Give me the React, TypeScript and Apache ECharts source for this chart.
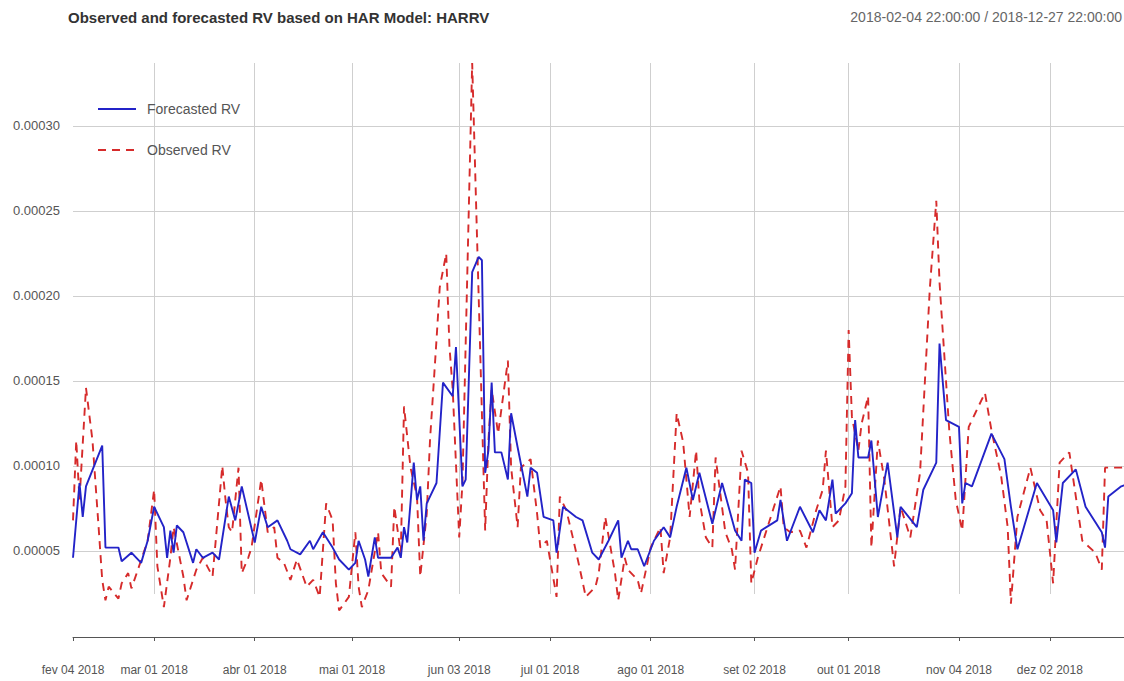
import React, { useEffect, useRef } from 'react';
import * as echarts from 'echarts';

const TITLE = 'Observed and forecasted RV based on HAR Model: HARRV';
const PERIOD = '2018-02-04 22:00:00 / 2018-12-27 22:00:00';
const YEAR = '2018';
const START_UTC = Date.UTC(2018, 1, 4);
const END_UTC = Date.UTC(2018, 11, 27);
const MONTHS_PT = ['jan', 'fev', 'mar', 'abr', 'mai', 'jun', 'jul', 'ago', 'set', 'out', 'nov', 'dez'];

// x tick labels (first observation of each month)
const tickDates = ['2018-02-04', '2018-03-01', '2018-04-01', '2018-05-01', '2018-06-03', '2018-07-01', '2018-08-01', '2018-09-02', '2018-10-01', '2018-11-04', '2018-12-02'];
// vertical grid lines (same, without the first)
const gridDates = tickDates.slice(1);
// y tick values
const yTicks = [0.00005, 0.0001, 0.00015, 0.0002, 0.00025, 0.0003];
const Y_MIN = 0.0000247;
const Y_MAX = 0.000337;

const forecasted: [string, number][] = [
  ['02-04', 4.6e-5], ['02-06', 9.0e-5], ['02-07', 7.0e-5], ['02-08', 8.8e-5], ['02-13', 11.2e-5], ['02-14', 5.2e-5],
  ['02-18', 5.2e-5], ['02-19', 4.4e-5], ['02-22', 4.9e-5], ['02-25', 4.3e-5], ['02-27', 5.6e-5], ['03-01', 7.6e-5],
  ['03-04', 6.4e-5], ['03-05', 4.6e-5], ['03-06', 6.2e-5], ['03-07', 4.9e-5], ['03-08', 6.5e-5], ['03-10', 6.1e-5],
  ['03-13', 4.3e-5], ['03-14', 5.1e-5], ['03-16', 4.6e-5], ['03-19', 4.9e-5], ['03-21', 4.5e-5], ['03-24', 8.2e-5],
  ['03-26', 6.8e-5], ['03-28', 8.8e-5], ['04-01', 5.5e-5], ['04-03', 7.6e-5], ['04-05', 6.4e-5], ['04-08', 6.8e-5],
  ['04-11', 5.6e-5], ['04-12', 5.1e-5], ['04-15', 4.8e-5], ['04-18', 5.6e-5], ['04-19', 5.1e-5], ['04-22', 6.1e-5],
  ['04-25', 5.2e-5], ['04-27', 4.5e-5], ['04-30', 3.9e-5], ['05-02', 4.3e-5], ['05-03', 5.6e-5], ['05-05', 4.5e-5],
  ['05-06', 3.5e-5], ['05-08', 5.8e-5], ['05-09', 4.6e-5], ['05-13', 4.6e-5], ['05-15', 5.2e-5], ['05-16', 4.6e-5],
  ['05-17', 6.4e-5], ['05-18', 5.5e-5], ['05-20', 10.2e-5], ['05-21', 8.0e-5], ['05-22', 8.8e-5], ['05-23', 5.6e-5],
  ['05-24', 7.8e-5], ['05-27', 9.0e-5], ['05-29', 14.9e-5], ['06-01', 14.1e-5], ['06-02', 17.0e-5], ['06-04', 8.8e-5],
  ['06-05', 9.2e-5], ['06-07', 21.4e-5], ['06-09', 22.3e-5], ['06-10', 22.1e-5], ['06-11', 9.6e-5], ['06-12', 10.9e-5],
  ['06-13', 14.9e-5], ['06-14', 10.8e-5], ['06-16', 10.8e-5], ['06-18', 9.2e-5], ['06-19', 13.1e-5], ['06-21', 11.1e-5],
  ['06-24', 8.2e-5], ['06-25', 9.9e-5], ['06-27', 9.6e-5], ['06-29', 7.0e-5], ['07-02', 6.8e-5], ['07-03', 4.9e-5],
  ['07-05', 7.6e-5], ['07-09', 7.0e-5], ['07-11', 6.8e-5], ['07-14', 4.9e-5], ['07-16', 4.5e-5], ['07-19', 5.6e-5],
  ['07-22', 6.8e-5], ['07-23', 4.6e-5], ['07-25', 5.6e-5], ['07-26', 5.1e-5], ['07-28', 5.1e-5], ['07-30', 4.1e-5],
  ['08-02', 5.6e-5], ['08-05', 6.4e-5], ['08-07', 5.8e-5], ['08-09', 7.6e-5], ['08-12', 9.9e-5], ['08-14', 8.0e-5],
  ['08-16', 9.6e-5], ['08-20', 6.6e-5], ['08-23', 9.0e-5], ['08-25', 7.6e-5], ['08-27', 6.2e-5], ['08-29', 5.6e-5],
  ['08-30', 9.2e-5], ['09-01', 9.0e-5], ['09-02', 4.9e-5], ['09-04', 6.2e-5], ['09-09', 6.8e-5], ['09-10', 8.0e-5],
  ['09-12', 5.6e-5], ['09-16', 7.6e-5], ['09-20', 6.1e-5], ['09-22', 7.4e-5], ['09-24', 6.8e-5], ['09-26', 9.2e-5],
  ['09-27', 7.2e-5], ['09-30', 7.8e-5], ['10-02', 8.4e-5], ['10-03', 12.7e-5], ['10-04', 10.5e-5], ['10-07', 10.5e-5],
  ['10-08', 11.5e-5], ['10-10', 7.0e-5], ['10-13', 10.2e-5], ['10-16', 5.8e-5], ['10-17', 7.6e-5], ['10-22', 6.4e-5],
  ['10-24', 8.6e-5], ['10-28', 10.2e-5], ['10-29', 17.2e-5], ['10-31', 12.7e-5], ['11-04', 12.3e-5], ['11-05', 7.8e-5],
  ['11-06', 9.0e-5], ['11-08', 8.8e-5], ['11-14', 11.9e-5], ['11-18', 10.4e-5], ['11-20', 7.6e-5], ['11-22', 5.1e-5],
  ['11-28', 9.0e-5], ['12-03', 7.4e-5], ['12-04', 5.5e-5], ['12-06', 9.0e-5], ['12-10', 9.8e-5], ['12-13', 7.6e-5],
  ['12-18', 6.1e-5], ['12-19', 5.2e-5], ['12-20', 8.2e-5], ['12-24', 8.8e-5], ['12-27', 9.0e-5],
];

const observed: [string, number][] = [
  ['02-04', 6.8e-5], ['02-05', 11.5e-5], ['02-06', 8.0e-5], ['02-08', 14.6e-5], ['02-10', 11.5e-5], ['02-12', 6.1e-5],
  ['02-13', 3.3e-5], ['02-14', 2.1e-5], ['02-15', 2.9e-5], ['02-18', 2.2e-5], ['02-19', 3.1e-5], ['02-21', 3.7e-5],
  ['02-22', 2.8e-5], ['02-24', 3.9e-5], ['02-27', 5.6e-5], ['03-01', 8.6e-5], ['03-02', 4.1e-5], ['03-04', 1.7e-5],
  ['03-06', 4.6e-5], ['03-07', 6.4e-5], ['03-10', 3.5e-5], ['03-11', 2.1e-5], ['03-13', 3.3e-5], ['03-14', 3.9e-5],
  ['03-16', 4.6e-5], ['03-19', 3.5e-5], ['03-22', 10.0e-5], ['03-23', 8.0e-5], ['03-24', 6.4e-5], ['03-25', 6.1e-5],
  ['03-27', 9.9e-5], ['03-28', 3.7e-5], ['03-30', 4.6e-5], ['03-31', 5.2e-5], ['04-03', 9.2e-5], ['04-05', 6.1e-5],
  ['04-07', 6.4e-5], ['04-08', 4.6e-5], ['04-10', 4.3e-5], ['04-12', 3.3e-5], ['04-14', 4.5e-5], ['04-17', 2.9e-5],
  ['04-19', 3.3e-5], ['04-21', 2.3e-5], ['04-23', 7.8e-5], ['04-25', 6.8e-5], ['04-26', 3.1e-5], ['04-27', 1.5e-5],
  ['04-30', 2.3e-5], ['05-02', 6.1e-5], ['05-03', 2.9e-5], ['05-04', 1.7e-5], ['05-06', 2.7e-5], ['05-09', 6.1e-5],
  ['05-10', 3.7e-5], ['05-13', 2.9e-5], ['05-14', 7.6e-5], ['05-16', 4.9e-5], ['05-17', 13.5e-5], ['05-19', 9.9e-5],
  ['05-21', 8.2e-5], ['05-22', 3.5e-5], ['05-24', 7.2e-5], ['05-25', 11.5e-5], ['05-27', 17.4e-5], ['05-28', 20.5e-5],
  ['05-30', 22.5e-5], ['05-31', 17.0e-5], ['06-01', 14.5e-5], ['06-03', 5.8e-5], ['06-04', 9.0e-5], ['06-07', 33.7e-5],
  ['06-11', 6.2e-5], ['06-12', 11.5e-5], ['06-13', 14.5e-5], ['06-15', 11.9e-5], ['06-18', 16.2e-5], ['06-19', 9.9e-5],
  ['06-21', 6.4e-5], ['06-22', 9.9e-5], ['06-25', 10.4e-5], ['06-27', 7.2e-5], ['06-28', 5.2e-5], ['06-30', 5.6e-5],
  ['07-03', 2.3e-5], ['07-04', 8.2e-5], ['07-06', 7.4e-5], ['07-08', 5.8e-5], ['07-10', 4.1e-5], ['07-12', 2.3e-5],
  ['07-15', 2.9e-5], ['07-16', 3.7e-5], ['07-18', 7.0e-5], ['07-21', 3.7e-5], ['07-22', 2.1e-5], ['07-24', 4.6e-5],
  ['07-25', 3.9e-5], ['07-28', 3.3e-5], ['07-29', 2.5e-5], ['08-01', 5.2e-5], ['08-04', 6.4e-5], ['08-05', 3.7e-5],
  ['08-07', 5.8e-5], ['08-09', 13.1e-5], ['08-11', 11.4e-5], ['08-13', 7.0e-5], ['08-15', 10.9e-5], ['08-16', 8.0e-5],
  ['08-18', 5.8e-5], ['08-20', 5.2e-5], ['08-21', 10.5e-5], ['08-24', 6.1e-5], ['08-26', 5.1e-5], ['08-27', 3.9e-5],
  ['08-29', 10.9e-5], ['08-31', 9.6e-5], ['09-01', 3.1e-5], ['09-03', 4.6e-5], ['09-06', 6.4e-5], ['09-10', 8.8e-5],
  ['09-11', 6.4e-5], ['09-13', 6.1e-5], ['09-16', 6.2e-5], ['09-18', 5.2e-5], ['09-21', 7.4e-5], ['09-23', 8.6e-5],
  ['09-24', 10.9e-5], ['09-26', 6.4e-5], ['09-28', 6.8e-5], ['09-30', 8.8e-5], ['10-01', 18.0e-5], ['10-02', 12.9e-5],
  ['10-04', 10.9e-5], ['10-05', 12.5e-5], ['10-07', 14.1e-5], ['10-08', 5.2e-5], ['10-10', 11.5e-5], ['10-12', 9.2e-5],
  ['10-14', 5.8e-5], ['10-15', 4.1e-5], ['10-17', 7.6e-5], ['10-20', 5.8e-5], ['10-23', 9.6e-5], ['10-26', 20.4e-5],
  ['10-28', 25.6e-5], ['10-29', 20.8e-5], ['11-01', 12.1e-5], ['11-03', 8.0e-5], ['11-05', 6.2e-5], ['11-07', 12.3e-5],
  ['11-09', 13.1e-5], ['11-12', 14.3e-5], ['11-14', 12.1e-5], ['11-17', 9.4e-5], ['11-19', 6.4e-5], ['11-20', 1.9e-5],
  ['11-22', 7.0e-5], ['11-26', 9.9e-5], ['11-29', 7.4e-5], ['12-01', 6.8e-5], ['12-03', 3.1e-5], ['12-05', 10.2e-5],
  ['12-08', 10.8e-5], ['12-12', 5.6e-5], ['12-16', 4.9e-5], ['12-18', 3.9e-5], ['12-19', 9.9e-5], ['12-24', 9.9e-5],
  ['12-27', 10.0e-5],
];

const FONT = '"Liberation Sans", Arial, sans-serif';
const BLUE = '#2323c8';
const RED = '#d62b2b';

function buildDays(): string[] {
  const out: string[] = [];
  for (let t = START_UTC; t <= END_UTC; t += 86400000) out.push(new Date(t).toISOString().slice(0, 10));
  return out;
}

function fmtDate(v: string): string {
  const [y, m, d] = v.split('-');
  return `${MONTHS_PT[Number(m) - 1]} ${d} ${y}`;
}

export default function App() {
  const ref = useRef<HTMLDivElement>(null);
  useEffect(() => {
    if (!ref.current) return;
    const chart = echarts.init(ref.current, null, { renderer: 'svg' });
    const days = buildDays();
    const tickSet = new Set(tickDates);
    const gridSet = new Set(gridDates);
    chart.setOption({
      animation: false,
      backgroundColor: '#ffffff',
      textStyle: { fontFamily: FONT },
      title: [
        { text: TITLE, left: 68, top: 10, padding: 0, textStyle: { fontSize: 15, fontWeight: 'bold', color: '#333', fontFamily: FONT } },
        { text: PERIOD, right: 10, top: 10, padding: 0, textStyle: { fontSize: 14, fontWeight: 'normal', color: '#666', fontFamily: FONT } },
      ],
      legend: {
        data: ['Forecasted RV', 'Observed RV'],
        orient: 'vertical',
        left: 92,
        top: 97,
        itemWidth: 38,
        itemHeight: 14,
        itemGap: 27,
        itemStyle: { color: 'transparent', borderColor: 'transparent', borderWidth: 0 },
        textStyle: { fontSize: 14, color: '#555', fontFamily: FONT, padding: [0, 0, 0, 6] },
      },
      grid: { left: 73, right: 1, top: 63, bottom: 87, containLabel: false },
      xAxis: {
        type: 'category',
        data: days,
        boundaryGap: false,
        offset: 43,
        axisLine: { show: true, lineStyle: { color: '#555', width: 1 } },
        axisTick: { show: true, length: 4, interval: (_i: number, v: string) => tickSet.has(v), lineStyle: { color: '#555' } },
        axisLabel: { interval: (_i: number, v: string) => tickSet.has(v), formatter: fmtDate, margin: 27, fontSize: 12, color: '#555', fontFamily: FONT },
        splitLine: { show: true, interval: (_i: number, v: string) => gridSet.has(v), lineStyle: { color: '#cfcfcf', width: 1 } },
      },
      yAxis: {
        type: 'value',
        min: Y_MIN,
        max: Y_MAX,
        axisLine: { show: false },
        axisTick: { show: false, customValues: yTicks },
        axisLabel: { customValues: yTicks, formatter: (v: number) => v.toFixed(5), margin: 13, fontSize: 13, color: '#555', fontFamily: FONT },
        splitLine: { show: true, lineStyle: { color: '#cfcfcf', width: 1 } },
      },
      series: [
        {
          name: 'Observed RV',
          type: 'line',
          data: observed.map(([d, v]) => [`${YEAR}-${d}`, v]),
          symbol: 'none',
          clip: false,
          z: 2,
          itemStyle: { color: RED },
          lineStyle: { color: RED, width: 1.9, type: [8, 6] },
        },
        {
          name: 'Forecasted RV',
          type: 'line',
          data: forecasted.map(([d, v]) => [`${YEAR}-${d}`, v]),
          symbol: 'none',
          clip: false,
          z: 3,
          itemStyle: { color: BLUE },
          lineStyle: { color: BLUE, width: 1.9 },
        },
      ],
    });
    return () => chart.dispose();
  }, []);
  // The chart is slightly wider than the 1124px window: the reference's plot runs past its right edge.
  return <div ref={ref} style={{ position: 'fixed', left: 0, top: 0, width: 1132, height: 681 }} />;
}
